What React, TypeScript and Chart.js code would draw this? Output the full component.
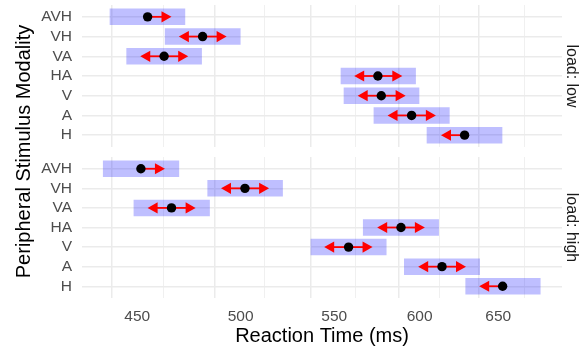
import React, { useEffect, useRef } from 'react';
import { Chart, registerables } from 'chart.js';

Chart.register(...registerables);
Chart.defaults.font.family = '"Liberation Sans", Arial, Helvetica, sans-serif';

// ---- data ----
const categories = ['AVH', 'VH', 'VA', 'HA', 'V', 'A', 'H'];
const xMajorTicks = [450, 500, 550, 600, 650];
const xMinorTicks = [426.9, 474.3, 524.4, 574.5, 624.5, 685.2];
const xMin = 425.4;
const xMax = 693.6;

const lowMean = [454.8, 481.0, 462.5, 575.0, 577.0, 595.1, 628.1];
const lowBarMin = [437.7, 463.0, 445.2, 553.8, 555.5, 572.7, 604.5];
const lowBarMax = [472.4, 499.8, 480.5, 597.5, 599.6, 618.4, 652.5];
const lowArrowLo = [454.8, 469.5, 451.4, 561.3, 563.3, 580.7, 613.2];
const lowArrowHi = [466.0, 492.9, 474.0, 589.5, 591.5, 610.0, 628.1];

const highMean = [451.7, 502.2, 466.0, 588.7, 558.1, 613.8, 652.9];
const highBarMin = [434.7, 483.5, 448.5, 566.5, 537.1, 590.7, 628.8];
const highBarMax = [469.5, 521.8, 484.4, 611.7, 579.9, 637.8, 678.4];
const highArrowLo = [451.7, 490.1, 454.8, 574.6, 544.4, 599.1, 637.5];
const highArrowHi = [462.9, 514.7, 477.6, 603.2, 571.9, 629.0, 652.9];

const panels = [
  { label: 'load: low', mean: lowMean, barMin: lowBarMin, barMax: lowBarMax, arrowLo: lowArrowLo, arrowHi: lowArrowHi },
  { label: 'load: high', mean: highMean, barMin: highBarMin, barMax: highBarMax, arrowLo: highArrowLo, arrowHi: highArrowHi },
];

const xTitle = 'Reaction Time (ms)';
const yTitle = 'Peripheral Stimulus Modality';

// ---- layout / style ----
const W = 586;
const H = 347;
const HEAD_LEN = 10;
const HEAD_HALF = 5.6;
const GRID = '#EBEBEB';

function buildChart(canvas: HTMLCanvasElement, panel: any, isBottom: boolean) {
  const arrowPlugin = {
    id: 'arrows',
    afterDatasetDraw(chart: any, args: any) {
      if (args.index !== 0) return;
      const { ctx, chartArea } = chart;
      const x = chart.scales.x;
      const y = chart.scales.y;
      ctx.save();
      ctx.beginPath();
      ctx.rect(chartArea.left, chartArea.top, chartArea.right - chartArea.left, chartArea.bottom - chartArea.top);
      ctx.clip();
      ctx.strokeStyle = '#FF0000';
      ctx.fillStyle = '#FF0000';
      ctx.lineWidth = 1.8;
      categories.forEach((_, i) => {
        const py = y.getPixelForValue(i);
        const pm = x.getPixelForValue(panel.mean[i]);
        [panel.arrowLo[i], panel.arrowHi[i]].forEach((v: number) => {
          const pe = x.getPixelForValue(v);
          const len = pe - pm;
          if (Math.abs(len) < 1) return;
          const dir = Math.sign(len);
          ctx.beginPath();
          ctx.moveTo(pm, py);
          ctx.lineTo(pe - dir * 4, py);
          ctx.stroke();
          ctx.beginPath();
          ctx.moveTo(pe, py);
          ctx.lineTo(pe - dir * HEAD_LEN, py - HEAD_HALF);
          ctx.lineTo(pe - dir * HEAD_LEN, py + HEAD_HALF);
          ctx.closePath();
          ctx.fill();
        });
      });
      ctx.restore();
    },
  };

  const labelPlugin = {
    id: 'labels',
    afterDraw(chart: any) {
      const { ctx, chartArea } = chart;
      ctx.save();
      ctx.font = '16px "Liberation Sans", Arial, sans-serif';
      ctx.fillStyle = '#1a1a1a';
      ctx.translate(chartArea.right + 5, (chartArea.top + chartArea.bottom) / 2);
      ctx.rotate(Math.PI / 2);
      ctx.textAlign = 'center';
      ctx.textBaseline = 'alphabetic';
      ctx.fillText(panel.label, 0, 0);
      ctx.restore();
      if (isBottom) {
        ctx.save();
        ctx.font = '20px "Liberation Sans", Arial, sans-serif';
        ctx.fillStyle = '#000000';
        ctx.translate(30, (5 + chartArea.bottom) / 2);
        ctx.rotate(-Math.PI / 2);
        ctx.textAlign = 'center';
        ctx.textBaseline = 'alphabetic';
        ctx.fillText(yTitle, 0, 0);
        ctx.restore();
      }
    },
  };

  return new Chart(canvas, {
    type: 'bar',
    data: {
      datasets: [
        {
          type: 'bar',
          indexAxis: 'y',
          order: 2,
          data: categories.map((_, i) => ({ y: i, x: [panel.barMin[i], panel.barMax[i]] })),
          backgroundColor: 'rgba(0,0,255,0.25)',
          borderWidth: 0,
          barThickness: 15.8,
        } as any,
        {
          type: 'scatter',
          order: 1,
          data: categories.map((_, i) => ({ x: panel.mean[i], y: i })),
          pointRadius: 4.7,
          pointBackgroundColor: '#000000',
          pointBorderWidth: 0,
          showLine: false,
        } as any,
      ],
    },
    options: {
      responsive: false,
      animation: false,
      events: [],
      layout: { padding: { top: isBottom ? 157 : 5, bottom: isBottom ? 0 : 200, left: 0, right: 24 } },
      plugins: { legend: { display: false }, tooltip: { enabled: false } },
      scales: {
        x: {
          type: 'logarithmic',
          position: 'bottom',
          min: xMin,
          max: xMax,
          offset: false,
          border: { display: false },
          grid: {
            drawTicks: false,
            color: (c: any) => (c.tick && c.tick.minor ? '#F0F0F0' : GRID),
            lineWidth: (c: any) => (c.tick && c.tick.minor ? 1 : 1.5),
          },
          afterBuildTicks: (s: any) => {
            s.ticks = [
              ...xMinorTicks.map((v) => ({ value: v, minor: true })),
              ...xMajorTicks.map((v) => ({ value: v })),
            ].sort((a, b) => a.value - b.value);
          },
          afterFit: (s: any) => {
            s.height = isBottom ? 49 : 0;
            s.paddingLeft = 0;
            s.paddingRight = 0;
          },
          ticks: {
            display: isBottom,
            autoSkip: false,
            maxRotation: 0,
            padding: 9,
            color: '#4d4d4d',
            font: { size: 15.5 },
            callback: (val: any, idx: number, ticks: any[]) => (ticks[idx] && ticks[idx].minor ? '' : String(val)),
          },
          title: {
            display: isBottom,
            text: xTitle,
            color: '#000000',
            font: { size: 20, lineHeight: 1.05 },
            padding: 0,
          },
        } as any,
        y: {
          type: 'linear',
          min: -0.6,
          max: categories.length - 0.4,
          reverse: true,
          offset: false,
          border: { display: false },
          grid: { offset: false, drawTicks: false, color: GRID, lineWidth: 1.5 },
          afterBuildTicks: (s: any) => {
            s.ticks = categories.map((_, i) => ({ value: i }));
          },
          afterFit: (s: any) => {
            s.width = 82;
            s.paddingTop = 0;
            s.paddingBottom = 0;
          },
          ticks: {
            autoSkip: false,
            padding: 10,
            color: '#4d4d4d',
            font: { size: 15.5 },
            callback: (v: any) => categories[v] ?? '',
          },
        } as any,
      },
    },
    plugins: [arrowPlugin, labelPlugin],
  } as any);
}

export default function App() {
  const topRef = useRef<HTMLCanvasElement>(null);
  const botRef = useRef<HTMLCanvasElement>(null);
  useEffect(() => {
    document.body.style.margin = '0';
    const a = buildChart(topRef.current!, panels[0], false);
    const b = buildChart(botRef.current!, panels[1], true);
    return () => {
      a.destroy();
      b.destroy();
    };
  }, []);
  return (
    <div style={{ position: 'relative', width: W, height: H, background: '#ffffff' }}>
      <canvas ref={topRef} width={W} height={H} style={{ position: 'absolute', left: 0, top: 0 }} />
      <canvas ref={botRef} width={W} height={H} style={{ position: 'absolute', left: 0, top: 0 }} />
    </div>
  );
}
